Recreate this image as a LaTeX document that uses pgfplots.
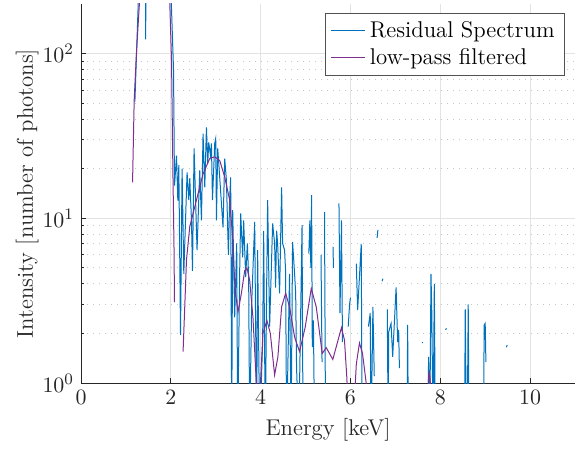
\documentclass[border=0pt]{standalone}
\usepackage{pgfplots}
\pgfplotsset{compat=1.18}
\definecolor{mblue}{RGB}{0,114,189}
\definecolor{mpurple}{RGB}{126,47,142}
\definecolor{axgray}{RGB}{38,38,38}
\begin{document}
\begin{tikzpicture}
\begin{axis}[name=ax, scale only axis, width=247pt, height=189.5pt,
 xmin=0, xmax=11, ymin=1, ymax=200, ymode=log,
 xtick={0,2,...,10},
 axis x line*=bottom, axis y line*=left,
 axis line style={axgray, line width=0.45pt},
 tick style={axgray, line width=0.45pt},
 tick align=inside, major tick length=2.5pt, minor tick length=1.25pt,
 xmajorgrids, ymajorgrids, yminorgrids,
 major grid style={gray!22, line width=0.5pt},
 minor grid style={gray!45, line width=0.4pt, dash pattern=on 0.4pt off 2.6pt},
 tick label style={font=\fontsize{11.4}{13.5}\selectfont, text=axgray},
 label style={font=\fontsize{11.4}{13.5}\selectfont, text=axgray},
 xlabel={Energy [keV]}, ylabel={Intensity [number of photons]},
 xlabel style={at={(axis description cs:0.5,-0.124)}, anchor=center},
 ylabel style={at={(axis description cs:-0.109,0.5)}, anchor=center},
 unbounded coords=jump,
 legend style={at={(rel axis cs:1,1)}, anchor=north east, xshift=-5pt, yshift=-4.5pt, draw=axgray!80, line width=0.4pt, font=\fontsize{11.4}{13.5}\selectfont},
 legend cell align=left,
 legend image code/.code={\draw[#1] (0pt,0pt) -- (17pt,0pt);},
]
\addplot[mblue, line width=0.5pt] coordinates {
(1.200,51) (1.274,200) (1.30,400) (1.36,600) (1.42,500) (1.436,300) (1.440,122) (1.446,300) (1.48,700) (1.6,1500) (1.75,2000) (1.9,800) (1.96,400) (2.00,250) (2.06,80) (2.082,15.8) (2.127,24) (2.156,12.8) (2.178,21) (2.216,1.95) (2.251,20) (2.289,4.6) (2.362,19) (2.40,12.9) (2.422,17.5) (2.46,9.7) (2.482,4.8) (2.518,26.6) (2.584,6.4) (2.644,19.5) (2.682,9.7) (2.718,32.7) (2.756,15.4) (2.793,35.6) (2.822,21.5) (2.844,28.9) (2.882,24.1) (2.904,28.5) (2.927,12.9) (2.978,28.5) (3.000,30.5) (3.016,9.7) (3.044,26.6) (3.089,17.7) (3.162,8.8) (3.20,23) (3.238,17) (3.282,6.0) (3.311,13.4) (3.333,17.7) (3.356,0.5) (3.378,11.2) (3.422,2.5) (3.467,7.05) (3.489,0.5) (3.533,4.7) (3.556,10.7) (3.60,5.8) (3.622,9.7) (3.667,4.4) (3.704,7.05) (3.733,4.4) (3.756,0.5) (3.80,3.0) (3.867,9.5) (3.911,0.5) (3.933,6.4) (3.978,0.5) (4.044,1.75) (4.067,8.4) (4.104,0.5) (4.133,3.66) (4.156,12.9) (4.20,2.2) (4.267,9.3) (4.311,7.05) (4.333,3.8) (4.356,8.4) (4.378,7.05) (4.422,3.5) (4.467,15.4) (4.489,7.05) (4.533,6.4) (4.556,4.8) (4.578,0.5) (4.644,4.6) (4.678,0.5) (4.711,7.2) (4.756,4.6) (4.78,3.5) (4.80,1.23) (4.85,0.5) (4.922,9.1) (4.944,0.5) (4.99,nan) (5.073,6.1) (5.096,9.7) (5.118,5.0) (5.135,13.8) (5.15,1.65) (5.175,2.4) (5.20,0.5) (5.30,nan) (5.344,6.0) (5.367,1.34) (5.39,nan) (5.422,10.9) (5.445,0.5) (5.47,nan) (5.611,6.7) (5.622,5.0) (5.65,nan) (5.744,12.3) (5.767,2.66) (5.80,9.7) (5.822,1.77) (5.85,nan) (5.95,2.2) (5.98,3.0) (6.00,3.3) (6.02,nan) (6.13,5.3) (6.16,2.77) (6.24,7.0) (6.26,0.5) (6.30,nan) (6.40,2.2) (6.44,2.66) (6.46,0.5) (6.50,2.9) (6.53,1.1) (6.55,nan) (6.593,7.6) (6.611,8.5) (6.63,nan) (6.704,4.15) (6.722,4.3) (6.74,nan) (6.82,2.8) (6.84,0.5) (6.851,2.04) (6.904,2.3) (6.94,1.44) (7.016,3.8) (7.051,1.77) (7.073,2.1) (7.09,1.23) (7.11,nan) (7.26,0.5) (7.273,2.25) (7.29,0.5) (7.31,nan) (7.593,1.75) (7.61,1.77) (7.63,nan) (7.72,0.5) (7.74,1.44) (7.77,0.7) (7.793,4.6) (7.81,2.77) (7.84,0.5) (7.867,4.0) (7.89,0.5) (7.91,nan) (8.12,2.1) (8.135,2.15) (8.15,nan) (8.54,0.5) (8.556,2.8) (8.58,0.5) (8.60,0.5) (8.622,3.0) (8.64,0.5) (8.66,nan) (8.96,0.5) (8.978,2.25) (9.00,2.3) (9.016,1.34) (9.03,nan) (9.47,1.65) (9.49,1.7) (9.51,nan)
};
\addlegendentry{Residual Spectrum}
\addplot[mpurple, line width=0.5pt] coordinates {
(1.148,16.5) (1.184,52) (1.237,104) (1.295,190) (1.33,260) (1.5,800) (1.7,1000) (1.9,600) (1.96,260) (1.978,198) (2.016,90) (2.049,17) (2.07,7) (2.082,3.1) (2.09,nan) (2.26,nan) (2.273,1.55) (2.349,5.6) (2.422,8.9) (2.571,12.9) (2.718,18.6) (2.867,23.1) (2.978,23.6) (3.089,22.4) (3.20,17.8) (3.311,12.9) (3.38,7.4) (3.43,3.66) (3.496,2.7) (3.571,3.5) (3.644,4.8) (3.696,5.0) (3.756,4.2) (3.829,2.5) (3.904,1.0) (3.94,0.6) (3.978,0.8) (4.051,2.0) (4.14,2.4) (4.216,2.0) (4.311,1.12) (4.384,1.44) (4.467,2.9) (4.556,3.5) (4.644,2.9) (4.756,1.9) (4.867,1.55) (4.993,2.19) (5.127,3.75) (5.238,2.9) (5.371,1.51) (5.46,1.64) (5.607,1.39) (5.80,2.17) (5.867,1.82) (5.918,1.09) (5.95,0.7) (6.05,0.5) (6.09,0.8) (6.13,1.3) (6.20,1.75) (6.27,1.5) (6.35,1.0) (6.39,0.7) (6.42,nan) (7.70,nan) (7.72,0.8) (7.74,1.1) (7.756,1.15) (7.775,1.05) (7.79,0.8) (7.81,nan)
};
\addlegendentry{low-pass filtered}
\end{axis}
\pgfresetboundingbox
\path ([shift={(-40.5pt,-32.5pt)}]ax.south west) rectangle ([shift={(0.5pt,2pt)}]ax.north east);
\end{tikzpicture}
\end{document}
